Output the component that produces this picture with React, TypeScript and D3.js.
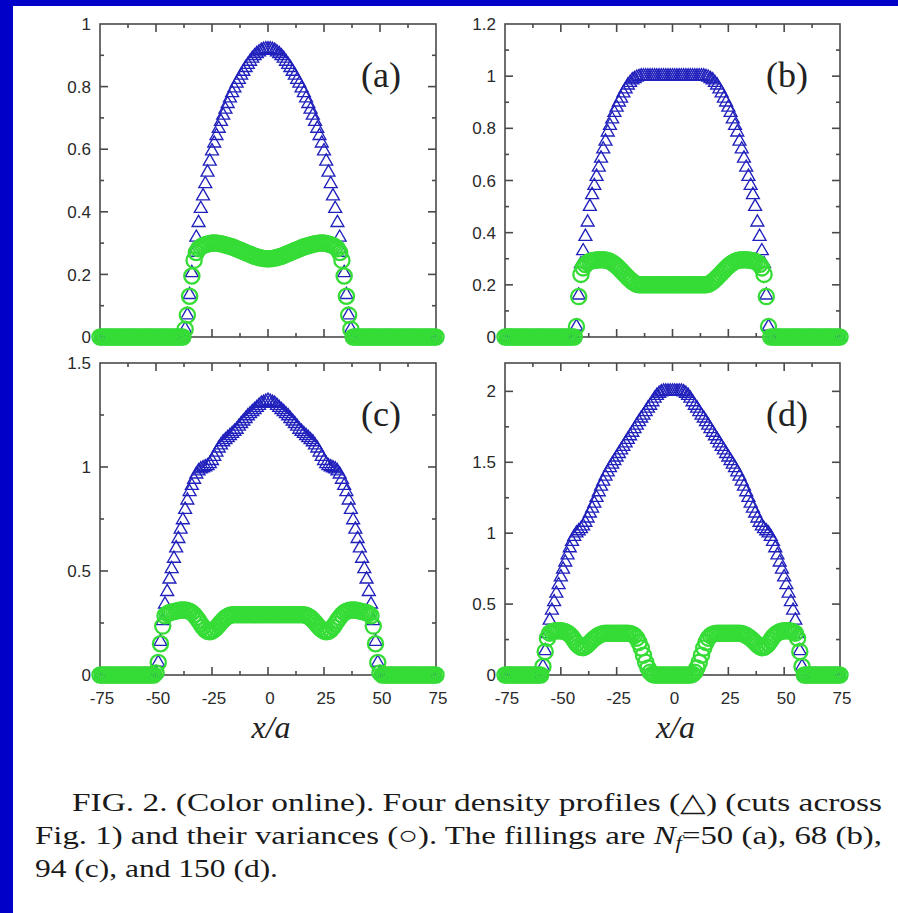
import React from "react";
import * as d3 from "d3";

const W = 898;
const H = 913;

// x-axis (lattice sites x/a)
const xDomain = [-75, 75];
const xMajorTicks = [-75, -50, -25, 0, 25, 50, 75];
const xTickLabels = ["-75", "-50", "-25", "0", "25", "50", "75"];
const xMinorTicks = [-62.5, -37.5, -12.5, 12.5, 37.5, 62.5];

// ---------- panel (a) N_f = 50 ----------
const aStart = -37;
const aDensity = [
  0.025, 0.07, 0.135, 0.205, 0.27, 0.318, 0.365, 0.41, 0.45, 0.489, 0.526, 0.561, 0.594, 0.619, 0.643, 0.666, 0.688, 0.708, 0.727,
  0.745, 0.763, 0.78, 0.795, 0.81, 0.822, 0.836, 0.848, 0.86, 0.87, 0.88, 0.89, 0.898, 0.905, 0.91, 0.915, 0.918, 0.92,
  0.92,
  0.92, 0.918, 0.915, 0.91, 0.905, 0.898, 0.89, 0.88, 0.87, 0.86, 0.848, 0.836, 0.822, 0.81, 0.795, 0.78, 0.763, 0.745,
  0.727, 0.708, 0.688, 0.666, 0.643, 0.619, 0.594, 0.561, 0.526, 0.489, 0.45, 0.41, 0.365, 0.318, 0.27, 0.205, 0.135, 0.07, 0.025,
];
const aVariance = [
  0.025, 0.07, 0.13, 0.195, 0.245, 0.27, 0.282, 0.288, 0.292, 0.295, 0.297, 0.299, 0.3, 0.3, 0.3, 0.299, 0.298, 0.296, 0.294,
  0.292, 0.29, 0.288, 0.285, 0.282, 0.279, 0.276, 0.273, 0.27, 0.267, 0.264, 0.261, 0.258, 0.256, 0.254, 0.252, 0.251, 0.25,
  0.25,
  0.25, 0.251, 0.252, 0.254, 0.256, 0.258, 0.261, 0.264, 0.267, 0.27, 0.273, 0.276, 0.279, 0.282, 0.285, 0.288, 0.29, 0.292,
  0.294, 0.296, 0.298, 0.299, 0.3, 0.3, 0.3, 0.299, 0.297, 0.295, 0.292, 0.288, 0.282, 0.27, 0.245, 0.195, 0.13, 0.07, 0.025,
];
const aYTicks = [0, 0.2, 0.4, 0.6, 0.8, 1];
const aYLabels = ["0", "0.2", "0.4", "0.6", "0.8", "1"];
const aYMinor = [0.1, 0.3, 0.5, 0.7, 0.9];

// ---------- panel (b) N_f = 68 ----------
const bStart = -43;
const bDensity = [
  0.04, 0.16, 0.28, 0.33, 0.385, 0.44, 0.5, 0.545, 0.58, 0.615, 0.65, 0.685, 0.72, 0.75, 0.785, 0.81, 0.835, 0.86, 0.88, 0.9,
  0.915, 0.935, 0.95, 0.965, 0.975, 0.985, 0.99, 0.995, 0.998,
  1, 1, 1, 1, 1, 1, 1, 1, 1, 1, 1, 1, 1, 1,
  1,
  1, 1, 1, 1, 1, 1, 1, 1, 1, 1, 1, 1, 1, 1,
  0.998, 0.995, 0.99, 0.985, 0.975, 0.965, 0.95, 0.935, 0.915, 0.9, 0.88, 0.86, 0.835, 0.81, 0.785, 0.75, 0.72, 0.685, 0.65,
  0.615, 0.58, 0.545, 0.5, 0.44, 0.385, 0.33, 0.28, 0.16, 0.04,
];
const bVariance = [
  0.04, 0.155, 0.24, 0.265, 0.278, 0.285, 0.29, 0.292, 0.294, 0.295, 0.296, 0.296, 0.296, 0.295, 0.293, 0.29, 0.285, 0.279,
  0.272, 0.264, 0.255, 0.246, 0.237, 0.228, 0.22, 0.213, 0.207, 0.202,
  0.2, 0.2, 0.2, 0.2, 0.2, 0.2, 0.2, 0.2, 0.2, 0.2, 0.2, 0.2, 0.2, 0.2, 0.2,
  0.2,
  0.2, 0.2, 0.2, 0.2, 0.2, 0.2, 0.2, 0.2, 0.2, 0.2, 0.2, 0.2, 0.2, 0.2, 0.2,
  0.202, 0.207, 0.213, 0.22, 0.228, 0.237, 0.246, 0.255, 0.264, 0.272, 0.279, 0.285, 0.29, 0.293, 0.295, 0.296, 0.296, 0.296,
  0.295, 0.294, 0.292, 0.29, 0.285, 0.278, 0.265, 0.24, 0.155, 0.04,
];
const bYTicks = [0, 0.2, 0.4, 0.6, 0.8, 1, 1.2];
const bYLabels = ["0", "0.2", "0.4", "0.6", "0.8", "1", "1.2"];
const bYMinor = [0.1, 0.3, 0.5, 0.7, 0.9, 1.1];

// ---------- panel (c) N_f = 94 ----------
const cStart = -50;
const cDensity = [
  0.01, 0.06, 0.16, 0.26, 0.34, 0.4, 0.46, 0.51, 0.56, 0.61, 0.655, 0.7, 0.745, 0.795, 0.84, 0.88, 0.91, 0.94, 0.965, 0.98,
  0.99, 0.995, 1.0, 1.005, 1.015, 1.03, 1.05, 1.07, 1.09, 1.105, 1.12, 1.13, 1.14, 1.15, 1.16, 1.17, 1.18, 1.195, 1.208, 1.22,
  1.232, 1.245, 1.255, 1.265, 1.275, 1.285, 1.295, 1.305, 1.31, 1.315,
  1.32,
  1.315, 1.31, 1.305, 1.295, 1.285, 1.275, 1.265, 1.255, 1.245, 1.232, 1.22, 1.208, 1.195, 1.18, 1.17, 1.16, 1.15, 1.14, 1.13,
  1.12, 1.105, 1.09, 1.07, 1.05, 1.03, 1.015, 1.005, 1.0, 0.995, 0.99, 0.98, 0.965, 0.94, 0.91, 0.88, 0.84, 0.795, 0.745, 0.7,
  0.655, 0.61, 0.56, 0.51, 0.46, 0.4, 0.34, 0.26, 0.16, 0.06, 0.01,
];
const cVariance = [
  0.01, 0.06, 0.15, 0.235, 0.285, 0.295, 0.3, 0.302, 0.305, 0.308, 0.31, 0.312, 0.312, 0.312, 0.31, 0.306, 0.3, 0.29, 0.277,
  0.262, 0.245, 0.23, 0.217, 0.21, 0.208, 0.211, 0.218, 0.228, 0.24, 0.253, 0.265, 0.275, 0.282, 0.287,
  0.29, 0.29, 0.29, 0.29, 0.29, 0.29, 0.29, 0.29, 0.29, 0.29, 0.29, 0.29, 0.29, 0.29, 0.29, 0.29,
  0.29,
  0.29, 0.29, 0.29, 0.29, 0.29, 0.29, 0.29, 0.29, 0.29, 0.29, 0.29, 0.29, 0.29, 0.29, 0.29, 0.29,
  0.287, 0.282, 0.275, 0.265, 0.253, 0.24, 0.228, 0.218, 0.211, 0.208, 0.21, 0.217, 0.23, 0.245, 0.262, 0.277, 0.29, 0.3,
  0.306, 0.31, 0.312, 0.312, 0.312, 0.31, 0.308, 0.305, 0.302, 0.3, 0.295, 0.285, 0.235, 0.15, 0.06, 0.01,
];
const cYTicks = [0, 0.5, 1, 1.5];
const cYLabels = ["0", "0.5", "1", "1.5"];
const cYMinor = [0.25, 0.75, 1.25];

// ---------- panel (d) N_f = 150 ----------
const dStart = -58;
const dDensity = [
  0.06, 0.17, 0.29, 0.385, 0.455, 0.515, 0.575, 0.635, 0.69, 0.745, 0.795, 0.845, 0.895, 0.94, 0.975, 1.0, 1.015, 1.03, 1.05,
  1.075, 1.105, 1.14, 1.175, 1.21, 1.25, 1.29, 1.33, 1.365, 1.4, 1.43, 1.46, 1.485, 1.51, 1.535, 1.56, 1.585, 1.61, 1.635,
  1.66, 1.685, 1.71, 1.735, 1.76, 1.785, 1.81, 1.83, 1.855, 1.88, 1.9, 1.925, 1.95, 1.97, 1.985, 1.995, 2.0, 2.0, 2.0, 2.0,
  2.0,
  2.0, 2.0, 2.0, 2.0, 1.995, 1.985, 1.97, 1.95, 1.925, 1.9, 1.88, 1.855, 1.83, 1.81, 1.785, 1.76, 1.735, 1.71, 1.685, 1.66,
  1.635, 1.61, 1.585, 1.56, 1.535, 1.51, 1.485, 1.46, 1.43, 1.4, 1.365, 1.33, 1.29, 1.25, 1.21, 1.175, 1.14, 1.105, 1.075,
  1.05, 1.03, 1.015, 1.0, 0.975, 0.94, 0.895, 0.845, 0.795, 0.745, 0.69, 0.635, 0.575, 0.515, 0.455, 0.385, 0.29, 0.17, 0.06,
];
const dVariance = [
  0.06, 0.165, 0.26, 0.295, 0.305, 0.31, 0.312, 0.312, 0.312, 0.31, 0.305, 0.297, 0.285, 0.268, 0.245, 0.222, 0.205, 0.195,
  0.193, 0.2, 0.213, 0.228, 0.244, 0.258, 0.27, 0.28, 0.287, 0.292,
  0.295, 0.295, 0.295, 0.295, 0.295, 0.295, 0.295, 0.295, 0.295, 0.295, 0.295,
  0.293, 0.288, 0.278, 0.26, 0.23, 0.19, 0.14, 0.09, 0.05, 0.02, 0.005,
  0, 0, 0, 0, 0, 0, 0, 0,
  0,
  0, 0, 0, 0, 0, 0, 0, 0,
  0.005, 0.02, 0.05, 0.09, 0.14, 0.19, 0.23, 0.26, 0.278, 0.288, 0.293,
  0.295, 0.295, 0.295, 0.295, 0.295, 0.295, 0.295, 0.295, 0.295, 0.295, 0.295,
  0.292, 0.287, 0.28, 0.27, 0.258, 0.244, 0.228, 0.213, 0.2, 0.193, 0.195, 0.205, 0.222, 0.245, 0.268, 0.285, 0.297, 0.305,
  0.31, 0.312, 0.312, 0.312, 0.31, 0.305, 0.295, 0.26, 0.165, 0.06,
];
const dYTicks = [0, 0.5, 1, 1.5, 2];
const dYLabels = ["0", "0.5", "1", "1.5", "2"];
const dYMinor = [0.25, 0.75, 1.25, 1.75];

const panelNames = ["(a)", "(b)", "(c)", "(d)"];

type PanelSpec = {
  name: string;
  box: [number, number, number, number]; // left, top, right, bottom
  ymax: number;
  start: number;
  density: number[];
  variance: number[];
  yTicks: number[];
  yLabels: string[];
  yMinor: number[];
  xLabels: boolean;
};

const panels: PanelSpec[] = [
  { name: panelNames[0], box: [100, 24, 436, 337], ymax: 1, start: aStart, density: aDensity, variance: aVariance, yTicks: aYTicks, yLabels: aYLabels, yMinor: aYMinor, xLabels: false },
  { name: panelNames[1], box: [505, 24, 840, 337], ymax: 1.2, start: bStart, density: bDensity, variance: bVariance, yTicks: bYTicks, yLabels: bYLabels, yMinor: bYMinor, xLabels: false },
  { name: panelNames[2], box: [100, 363, 436, 675], ymax: 1.5, start: cStart, density: cDensity, variance: cVariance, yTicks: cYTicks, yLabels: cYLabels, yMinor: cYMinor, xLabels: true },
  { name: panelNames[3], box: [505, 363, 840, 675], ymax: 2.2, start: dStart, density: dDensity, variance: dVariance, yTicks: dYTicks, yLabels: dYLabels, yMinor: dYMinor, xLabels: true },
];

const BLUE = "#2020bc";
const GREEN = "#36dc36";
const AXIS = "#4a4a4a";
const SANS = "'Liberation Sans', Arial, Helvetica, sans-serif";
const SERIF = "'Liberation Serif', 'Times New Roman', Times, serif";

const sites = d3.range(xDomain[0], xDomain[1] + 1);
const triPath = d3.symbol().type(d3.symbolTriangle).size(72)() as string;

function valueAt(arr: number[], start: number, site: number) {
  const i = site - start;
  return i >= 0 && i < arr.length ? arr[i] : 0;
}

function Panel({ p }: { p: PanelSpec }) {
  const [l, t, r, b] = p.box;
  const x = d3.scaleLinear().domain(xDomain).range([l, r]);
  const y = d3.scaleLinear().domain([0, p.ymax]).range([b, t]);
  const maj = 8;
  const min = 4;
  const xInner = xMajorTicks.filter((v) => v > xDomain[0] && v < xDomain[1]);
  const yInner = p.yTicks.filter((v) => v > 0 && v < p.ymax);
  return (
    <g>
      <rect x={l} y={t} width={r - l} height={b - t} fill="none" stroke={AXIS} strokeWidth={1.6} />
      <g stroke={AXIS} strokeWidth={1.6}>
        {xInner.map((v) => (
          <g key={"xm" + v}>
            <line x1={x(v)} x2={x(v)} y1={b} y2={b - maj} />
            <line x1={x(v)} x2={x(v)} y1={t} y2={t + maj} />
          </g>
        ))}
        {xMinorTicks.map((v) => (
          <g key={"xn" + v}>
            <line x1={x(v)} x2={x(v)} y1={b} y2={b - min} />
            <line x1={x(v)} x2={x(v)} y1={t} y2={t + min} />
          </g>
        ))}
        {yInner.map((v) => (
          <g key={"ym" + v}>
            <line x1={l} x2={l + maj} y1={y(v)} y2={y(v)} />
            <line x1={r} x2={r - maj} y1={y(v)} y2={y(v)} />
          </g>
        ))}
        {p.yMinor.map((v) => (
          <g key={"yn" + v}>
            <line x1={l} x2={l + min} y1={y(v)} y2={y(v)} />
            <line x1={r} x2={r - min} y1={y(v)} y2={y(v)} />
          </g>
        ))}
      </g>
      <g fontFamily={SANS} fontSize={17} fill="#2a2a2a" textAnchor="end">
        {p.yTicks.map((v, i) => (
          <text key={"yl" + v} x={l - 9} y={y(v)} dy="0.36em">
            {p.yLabels[i]}
          </text>
        ))}
      </g>
      {p.xLabels && (
        <g fontFamily={SANS} fontSize={17} fill="#2a2a2a" textAnchor="middle">
          {xMajorTicks.map((v, i) => (
            <text key={"xl" + v} x={x(v) + 2} y={b + 29}>
              {xTickLabels[i]}
            </text>
          ))}
        </g>
      )}
      <g fill="none" stroke={BLUE} strokeWidth={1.35}>
        {sites.map((s) => (
          <path key={"t" + s} d={triPath} transform={`translate(${x(s)},${y(valueAt(p.density, p.start, s))})`} />
        ))}
      </g>
      <g fill="none" stroke={GREEN} strokeWidth={2.3}>
        {sites.map((s) => (
          <circle key={"c" + s} cx={x(s)} cy={y(valueAt(p.variance, p.start, s))} r={7.6} />
        ))}
      </g>
      <text x={l + 261} y={t + 63} fontFamily={SERIF} fontSize={36} fill="#222">
        {p.name}
      </text>
      {p.xLabels && (
        <text x={(l + r) / 2 + 3} y={b + 63} fontFamily={SERIF} fontStyle="italic" fontSize={32} fill="#222" textAnchor="middle">
          x/a
        </text>
      )}
    </g>
  );
}

const captionLine1 = "FIG. 2. (Color online). Four density profiles (△) (cuts across";
const captionLine2a = "Fig. 1) and their variances (○). The fillings are ";
const captionLine2b = "=50 (a), 68 (b),";
const captionLine3 = "94 (c), and 150 (d).";

function Caption() {
  return (
    <g fontFamily={SERIF} fontSize={26} fill="#1a1a1a">
      <text x={72} y={811} textLength={810} lengthAdjust="spacingAndGlyphs">
        {captionLine1}
      </text>
      <text x={35} y={844} textLength={847} lengthAdjust="spacingAndGlyphs">
        {captionLine2a}
        <tspan fontStyle="italic">N</tspan>
        <tspan fontStyle="italic" fontSize={18} dy={5}>
          f
        </tspan>
        <tspan dy={-5}>{captionLine2b}</tspan>
      </text>
      <text x={35} y={877} textLength={243} lengthAdjust="spacingAndGlyphs">
        {captionLine3}
      </text>
    </g>
  );
}

export default function App() {
  return (
    <svg
      width={W}
      height={H}
      viewBox={`0 0 ${W} ${H}`}
      style={{ position: "absolute", left: 0, top: 0, background: "#fff" }}
    >
      <rect x={0} y={0} width={W} height={H} fill="#fff" />
      <rect x={0} y={0} width={W} height={6} fill="#0000c8" />
      <rect x={0} y={0} width={13} height={H} fill="#0000c8" />
      {panels.map((p) => (
        <Panel key={p.name} p={p} />
      ))}
      <Caption />
    </svg>
  );
}
